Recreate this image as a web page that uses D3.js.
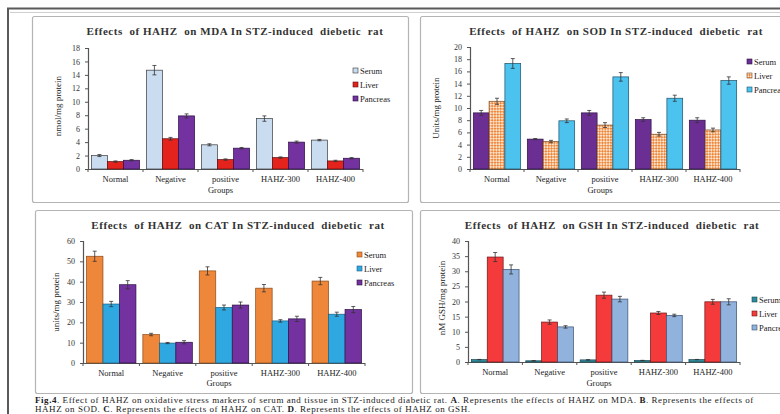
<!DOCTYPE html>
<html>
<head>
<meta charset="utf-8">
<script src="https://cdn.jsdelivr.net/npm/d3@7"></script>
<style>
  html, body { margin: 0; padding: 0; background: #fff; }
  svg { display: block; }
  svg text { font-family: "Liberation Serif", "DejaVu Serif", serif; }
</style>
</head>
<body>
<svg id="fig" width="780" height="414"></svg>
<script>
// Treatment groups and tissues
const groups = ["Normal", "Negative", "positive", "HAHZ-300", "HAHZ-400"];
const tissues = ["Serum", "Liver", "Pancreas"];

// MDA (nmol/mg protein)
const mdaSerum = [2.0, 14.7, 3.6, 7.5, 4.3];
const mdaLiver = [1.1, 4.5, 1.4, 1.7, 1.2];
const mdaPancreas = [1.3, 7.9, 3.1, 4.0, 1.6];
const mdaSerumErr = [0.15, 0.7, 0.15, 0.4, 0.1];
const mdaLiverErr = [0.1, 0.2, 0.1, 0.1, 0.1];
const mdaPancreasErr = [0.1, 0.3, 0.1, 0.15, 0.1];

// SOD (Units/mg protein)
const sodSerum = [9.2, 4.9, 9.2, 8.1, 8.0];
const sodLiver = [11.1, 4.5, 7.2, 5.7, 6.4];
const sodPancreas = [17.3, 7.9, 15.1, 11.6, 14.5];
const sodSerumErr = [0.4, 0.1, 0.4, 0.3, 0.4];
const sodLiverErr = [0.5, 0.2, 0.4, 0.3, 0.3];
const sodPancreasErr = [0.8, 0.3, 0.7, 0.5, 0.6];

// CAT (units/mg protein)
const catSerum = [52.5, 14.0, 45.3, 36.8, 40.3];
const catLiver = [29.0, 9.8, 27.3, 20.7, 24.0];
const catPancreas = [38.5, 10.2, 28.5, 21.7, 26.3];
const catSerumErr = [2.5, 0.6, 2.0, 1.8, 1.8];
const catLiverErr = [1.3, 0.3, 1.2, 0.6, 1.0];
const catPancreasErr = [2.0, 0.8, 1.5, 1.3, 1.5];

// GSH (nM GSH/mg protein)
const gshSerum = [0.8, 0.4, 0.7, 0.5, 0.8];
const gshLiver = [34.7, 13.2, 22.1, 16.2, 19.9];
const gshPancreas = [30.6, 11.6, 20.8, 15.4, 19.9];
const gshSerumErr = [0.05, 0.05, 0.05, 0.05, 0.05];
const gshLiverErr = [1.5, 0.7, 1.0, 0.5, 0.8];
const gshPancreasErr = [1.5, 0.4, 0.9, 0.4, 1.0];

// Y-axis tick values
const mdaTicks = [0, 2, 4, 6, 8, 10, 12, 14, 16, 18];
const sodTicks = [0, 2, 4, 6, 8, 10, 12, 14, 16, 18, 20];
const catTicks = [0, 10, 20, 30, 40, 50, 60];
const gshTicks = [0, 5, 10, 15, 20, 25, 30, 35, 40];

const captionLine1 = [
  {t: "Fig.4", b: true}, {t: ". Effect of HAHZ on oxidative stress markers of serum and tissue in STZ-induced diabetic rat. "},
  {t: "A", b: true}, {t: ". Represents the effects of HAHZ on MDA. "},
  {t: "B", b: true}, {t: ". Represents the effects of"}
];
const captionLine2 = [
  {t: "HAHZ on SOD. "}, {t: "C", b: true}, {t: ". Represents the effects of HAHZ on CAT. "},
  {t: "D", b: true}, {t: ". Represents the effects of HAHZ on GSH."}
];

const FONT = "Liberation Serif, DejaVu Serif, serif";
const svg = d3.select("#fig").attr("font-family", FONT);
const defs = svg.append("defs");

// orange/white checker used for SOD liver bars
const chk = defs.append("pattern").attr("id", "orangeCheck")
  .attr("patternUnits", "userSpaceOnUse").attr("width", 4).attr("height", 4)
  .attr("patternTransform", "rotate(45)");
chk.append("rect").attr("width", 4).attr("height", 4).attr("fill", "#fbe3cc");
chk.append("rect").attr("width", 2).attr("height", 2).attr("fill", "#f0863a");
chk.append("rect").attr("x", 2).attr("y", 2).attr("width", 2).attr("height", 2).attr("fill", "#f0863a");

// outer frame
svg.append("rect").attr("x", 8).attr("y", 8.5).attr("width", 800).attr("height", 430)
  .attr("fill", "none").attr("stroke", "#5a5a5a").attr("stroke-width", 2);
svg.append("line").attr("x1", 10).attr("x2", 780).attr("y1", 12.5).attr("y2", 12.5)
  .attr("stroke", "#cfcfcf").attr("stroke-width", 1);

// panel boxes
const boxes = [
  {x: 32, y: 16, w: 376, h: 186},
  {x: 420, y: 16, w: 380, h: 186},
  {x: 35, y: 210, w: 377, h: 183},
  {x: 420, y: 210, w: 380, h: 183}
];
boxes.forEach(b => {
  svg.append("rect").attr("x", b.x + 0.5).attr("y", b.y + 0.5).attr("width", b.w).attr("height", b.h)
    .attr("rx", 2).attr("fill", "#fff").attr("stroke", "#b4b4b4").attr("stroke-width", 1.2);
});

const panels = [
  {
    title: "Effects  of HAHZ  on MDA In STZ-induced  diebetic  rat", tx: 235, ty: 35,
    ylabel: "nmol/mg protein", ylx: 61, yly: 106,
    x0: 88, x1: 363, yTop: 48, yBot: 169, max: 18, ticks: mdaTicks,
    series: [mdaSerum, mdaLiver, mdaPancreas], errs: [mdaSerumErr, mdaLiverErr, mdaPancreasErr],
    fills: ["#c9dcf0", "#e5231d", "#7332a0"], strokes: ["#3a3a3a", "#5a1010", "#2a1040"],
    legX: 353, legY: [71, 85, 99], groupsY: 193
  },
  {
    title: "Effects  of HAHZ  on SOD In STZ-induced  diebetic  rat", tx: 616, ty: 35,
    ylabel: "Units/mg protein", ylx: 439, yly: 108,
    x0: 470, x1: 740, yTop: 47, yBot: 169, max: 20, ticks: sodTicks,
    series: [sodSerum, sodLiver, sodPancreas], errs: [sodSerumErr, sodLiverErr, sodPancreasErr],
    fills: ["#6b2f94", "url(#orangeCheck)", "#4cc2ef"], strokes: ["#2a1040", "#7a4a20", "#1d4f66"],
    legX: 747, legY: [62, 76, 90], groupsY: 193
  },
  {
    title: "Effects  of HAHZ  on CAT In STZ-induced  diebetic  rat", tx: 238, ty: 229,
    ylabel: "units/mg protein", ylx: 59, yly: 302,
    x0: 83, x1: 365, yTop: 241, yBot: 363, max: 60, ticks: catTicks,
    series: [catSerum, catLiver, catPancreas], errs: [catSerumErr, catLiverErr, catPancreasErr],
    fills: ["#ef873b", "#2fa8e2", "#7332a0"], strokes: ["#8a4a1a", "#1a5f80", "#2a1040"],
    legX: 357, legY: [255, 269, 283], groupsY: 386
  },
  {
    title: "Effects  of HAHZ  on GSH In STZ-induced  diebetic  rat", tx: 612, ty: 229,
    ylabel: "nM GSH/mg protein", ylx: 445, yly: 298,
    x0: 468, x1: 740, yTop: 241, yBot: 362, max: 40, ticks: gshTicks,
    series: [gshSerum, gshLiver, gshPancreas], errs: [gshSerumErr, gshLiverErr, gshPancreasErr],
    fills: ["#2f8a9c", "#f43a3a", "#90b2dc"], strokes: ["#1a4a55", "#6a1515", "#3a5070"],
    legX: 752, legY: [300, 314, 328], groupsY: 386
  }
];

const axisColor = "#555";
const textColor = "#222";

panels.forEach(p => {
  const g = svg.append("g").attr("font-family", FONT);
  const x = d3.scaleBand().domain(groups).range([p.x0, p.x1]).paddingInner(0).paddingOuter(0);
  const xs = d3.scaleBand().domain(tissues).range([0, x.bandwidth()]).paddingInner(0).paddingOuter(0.21);
  const y = d3.scaleLinear().domain([0, p.max]).range([p.yBot, p.yTop]);

  // title
  g.append("text").attr("x", p.tx).attr("y", p.ty).attr("text-anchor", "middle")
    .style("white-space", "pre").attr("font-size", 11).attr("font-weight", "bold")
    .attr("letter-spacing", 0.55).attr("fill", "#333").text(p.title);

  // y axis
  const yAxis = d3.axisLeft(y).tickValues(p.ticks).tickSize(3).tickPadding(5).tickFormat(d3.format("d"));
  const ya = g.append("g").attr("transform", `translate(${p.x0},0)`).call(yAxis)
    .attr("font-family", FONT).attr("font-size", 8);
  ya.select(".domain").attr("stroke", axisColor).attr("stroke-width", 1.2);
  ya.selectAll(".tick line").attr("stroke", axisColor);
  ya.selectAll(".tick text").attr("fill", "#333");

  // x axis with ticks at category boundaries
  const xa = g.append("g");
  xa.append("line").attr("x1", p.x0).attr("x2", p.x1).attr("y1", p.yBot + 0.5).attr("y2", p.yBot + 0.5)
    .attr("stroke", axisColor).attr("stroke-width", 1.2);
  const bounds = groups.map(d => x(d)).concat([p.x1]);
  xa.selectAll("line.b").data(bounds).join("line").attr("class", "b")
    .attr("x1", d => d).attr("x2", d => d).attr("y1", p.yBot).attr("y2", p.yBot + 3)
    .attr("stroke", axisColor);
  xa.selectAll("text").data(groups).join("text")
    .attr("x", d => x(d) + x.bandwidth() / 2).attr("y", p.yBot + 13)
    .attr("text-anchor", "middle").attr("font-size", 8.5).attr("fill", textColor).text(d => d);
  g.append("text").attr("x", (p.x0 + p.x1) / 2 - 5).attr("y", p.groupsY)
    .attr("text-anchor", "middle").attr("font-size", 8.5).attr("fill", textColor).text("Groups");

  // y label
  g.append("text").attr("transform", `translate(${p.ylx},${p.yly}) rotate(-90)`)
    .attr("text-anchor", "middle").attr("font-size", 9).attr("fill", textColor).text(p.ylabel);

  // bars
  tissues.forEach((t, si) => {
    const vals = p.series[si], errs = p.errs[si];
    const data = groups.map((gname, i) => ({g: gname, v: vals[i], e: errs[i]}));
    g.append("g").selectAll("rect").data(data).join("rect")
      .attr("x", d => x(d.g) + xs(t)).attr("width", xs.bandwidth())
      .attr("y", d => y(d.v)).attr("height", d => y(0) - y(d.v))
      .attr("fill", p.fills[si]).attr("stroke", p.strokes[si]).attr("stroke-width", 0.7);
    // error bars
    const eg = g.append("g").attr("stroke", "#333").attr("stroke-width", 0.8);
    data.forEach(d => {
      const cx = x(d.g) + xs(t) + xs.bandwidth() / 2;
      eg.append("line").attr("x1", cx).attr("x2", cx).attr("y1", y(d.v - d.e)).attr("y2", y(d.v + d.e));
      eg.append("line").attr("x1", cx - 2).attr("x2", cx + 2).attr("y1", y(d.v + d.e)).attr("y2", y(d.v + d.e));
      eg.append("line").attr("x1", cx - 2).attr("x2", cx + 2).attr("y1", y(d.v - d.e)).attr("y2", y(d.v - d.e));
    });
  });

  // legend
  tissues.forEach((t, si) => {
    const ly = p.legY[si];
    g.append("rect").attr("x", p.legX).attr("y", ly - 3).attr("width", 5).attr("height", 5)
      .attr("fill", p.fills[si]).attr("stroke", p.strokes[si]).attr("stroke-width", 0.6);
    g.append("text").attr("x", p.legX + 7).attr("y", ly + 2.5).attr("font-size", 8.5)
      .attr("fill", textColor).text(t);
  });
});

// caption
function caption(parts, yy) {
  const t = svg.append("text").attr("x", 35).attr("y", yy).attr("font-size", 9)
    .attr("letter-spacing", 0.55).attr("fill", "#222");
  parts.forEach(p => t.append("tspan").attr("font-weight", p.b ? "bold" : null).text(p.t));
}
caption(captionLine1, 403);
caption(captionLine2, 412);
</script>
</body>
</html>
